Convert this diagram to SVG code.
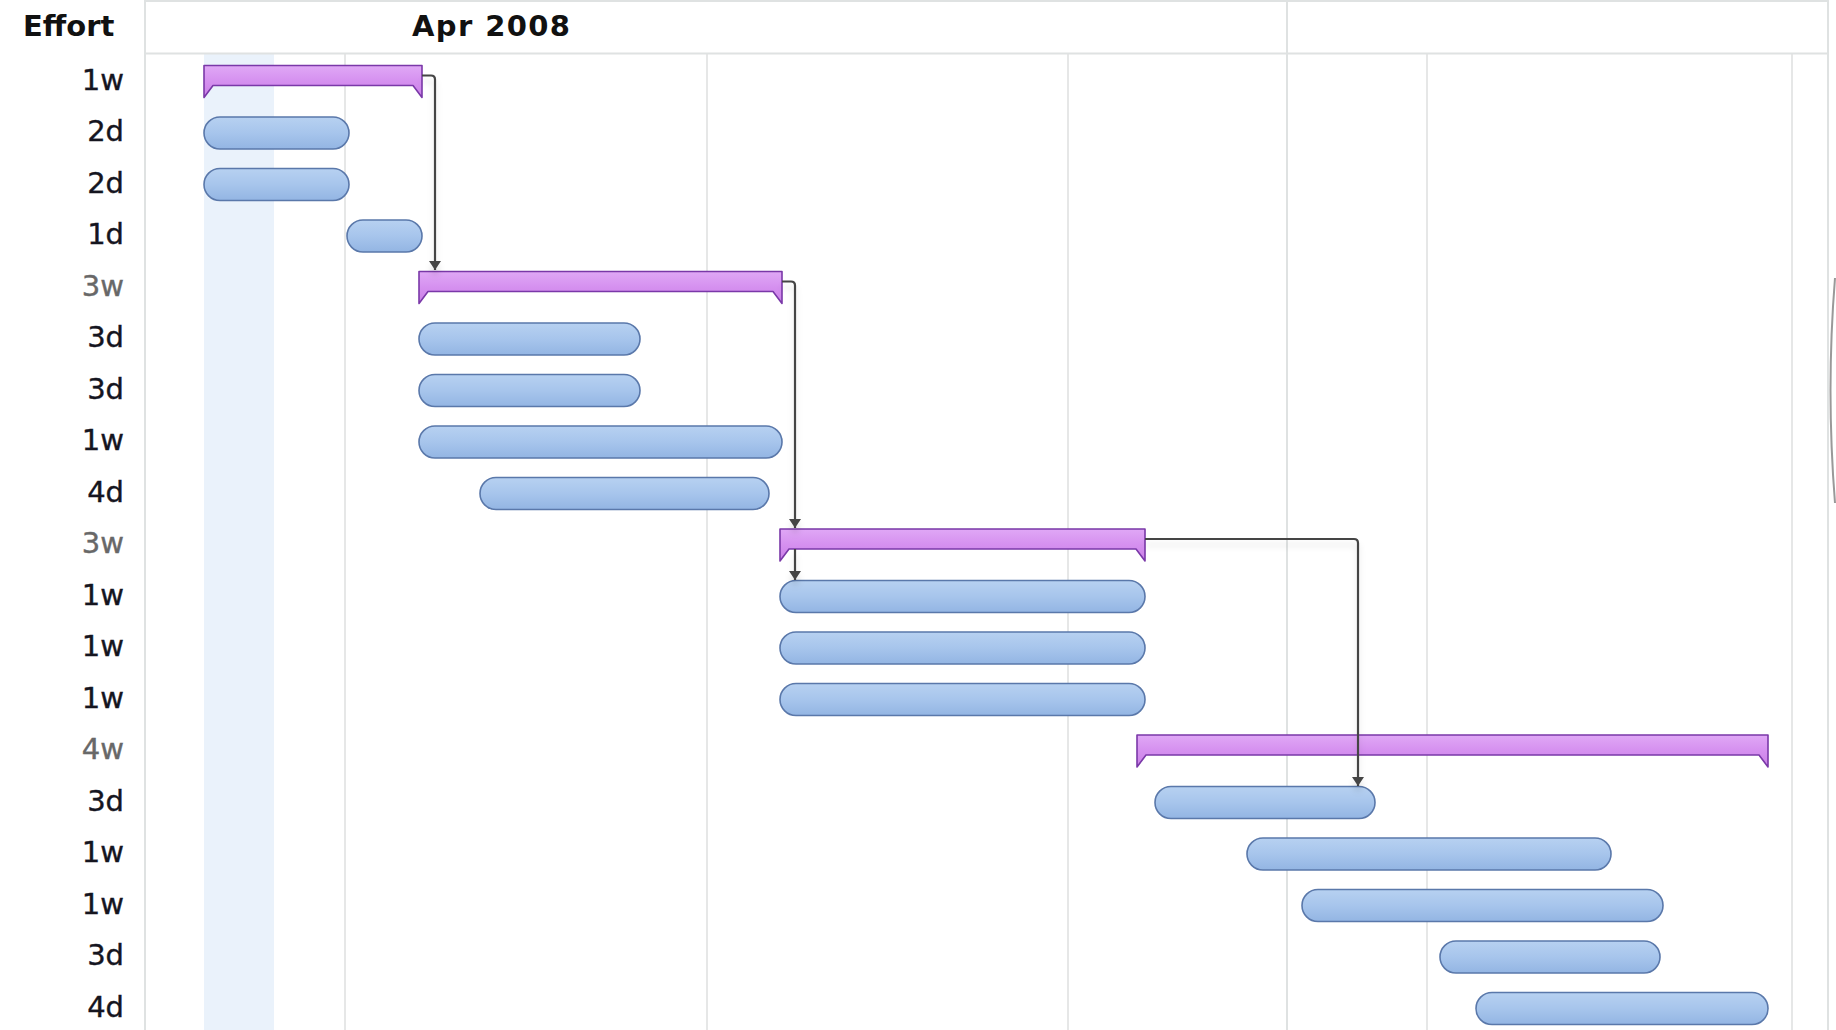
<svg xmlns="http://www.w3.org/2000/svg" width="1836" height="1030" viewBox="0 0 1836 1030">
  <defs>
    <linearGradient id="taskFill" x1="0" y1="0" x2="0" y2="1">
      <stop offset="0" stop-color="#b7d1f1"/>
      <stop offset="0.5" stop-color="#a7c5ec"/>
      <stop offset="1" stop-color="#93b5e3"/>
    </linearGradient>
    <linearGradient id="sumFill" x1="0" y1="0" x2="0" y2="1">
      <stop offset="0" stop-color="#e0a8f6"/>
      <stop offset="0.5" stop-color="#d590ef"/>
      <stop offset="1" stop-color="#c97fe6"/>
    </linearGradient>
    <marker id="arrow" viewBox="0 0 12 9" refX="6" refY="9" markerWidth="12" markerHeight="9" markerUnits="userSpaceOnUse" orient="0">
      <path d="M0,0 L12,0 L6,9 Z" fill="#444444"/>
    </marker>
    <filter id="shadow" x="-10%" y="-10%" width="120%" height="140%">
      <feDropShadow dx="0" dy="6" stdDeviation="3" flood-color="#000000" flood-opacity="0.12"/>
    </filter>
  </defs>
  <style>
    .lbl { font-family: "DejaVu Sans", "Liberation Sans", sans-serif; font-size: 29px; fill: #15151f; text-anchor: end; stroke: #15151f; stroke-width: 0.4; }
    .lbl.calc { fill: #686868; stroke: #686868; }
    .hdr { font-family: "DejaVu Sans", "Liberation Sans", sans-serif; font-size: 29px; font-weight: bold; fill: #111111; }
    .grid { stroke: #e6e7e7; stroke-width: 2; fill: none; }
    .frame { stroke: #dfe2e2; stroke-width: 2; fill: none; }
    .task { fill: url(#taskFill); stroke: #5a78aa; stroke-width: 1.6; }
    .sum { fill: url(#sumFill); stroke: #7a38a8; stroke-width: 1.6; stroke-linejoin: round; }
    .conn { stroke: #444444; stroke-width: 2.2; fill: none; }
  </style>

  <rect x="0" y="0" width="1836" height="1030" fill="#ffffff"/>

  <!-- shaded day column -->
  <rect x="204" y="54" width="70" height="976" fill="#eaf2fb"/>

  <!-- gridlines -->
  <g id="grid">
    <line class="grid" x1="345" y1="54" x2="345" y2="1030"/>
    <line class="grid" x1="707" y1="54" x2="707" y2="1030"/>
    <line class="grid" x1="1068" y1="54" x2="1068" y2="1030"/>
    <line class="grid" x1="1427" y1="54" x2="1427" y2="1030"/>
    <line class="grid" x1="1792" y1="54" x2="1792" y2="1030"/>
    <line class="frame" x1="1287" y1="0" x2="1287" y2="1030"/>
    <line class="frame" x1="145" y1="1" x2="1828" y2="1"/>
    <line class="frame" x1="145" y1="53.5" x2="1828" y2="53.5" stroke-width="2.5"/>
    <line class="frame" x1="145" y1="0" x2="145" y2="1030"/>
    <line class="frame" x1="1828" y1="0" x2="1828" y2="1030"/>
  </g>

  <!-- header -->
  <g id="header">
    <text class="hdr" x="23" y="36">Effort</text>
    <text class="hdr" x="412" y="36" textLength="158" lengthAdjust="spacing">Apr 2008</text>
  </g>

  <!-- effort labels -->
  <g id="labels">
    <text class="lbl" x="124" y="89.5">1w</text>
    <text class="lbl" x="124" y="141">2d</text>
    <text class="lbl" x="124" y="192.5">2d</text>
    <text class="lbl" x="124" y="244">1d</text>
    <text class="lbl calc" x="124" y="295.5">3w</text>
    <text class="lbl" x="124" y="347">3d</text>
    <text class="lbl" x="124" y="398.5">3d</text>
    <text class="lbl" x="124" y="450">1w</text>
    <text class="lbl" x="124" y="501.5">4d</text>
    <text class="lbl calc" x="124" y="553">3w</text>
    <text class="lbl" x="124" y="604.5">1w</text>
    <text class="lbl" x="124" y="656">1w</text>
    <text class="lbl" x="124" y="707.5">1w</text>
    <text class="lbl calc" x="124" y="759">4w</text>
    <text class="lbl" x="124" y="810.5">3d</text>
    <text class="lbl" x="124" y="862">1w</text>
    <text class="lbl" x="124" y="913.5">1w</text>
    <text class="lbl" x="124" y="965">3d</text>
    <text class="lbl" x="124" y="1016.5">4d</text>
  </g>

  <!-- bars -->
  <g id="row0"><path class="sum" d="M204,65.5 H422 V97.5 L413,85.5 H213 L204,97.5 Z"/></g>
  <g id="row1"><rect class="task" x="204" y="117" width="145" height="32" rx="16"/></g>
  <g id="row2"><rect class="task" x="204" y="168.5" width="145" height="32" rx="16"/></g>
  <g id="row3"><rect class="task" x="347" y="220" width="75" height="32" rx="16"/></g>
  <g id="row4"><path class="sum" d="M419,271.5 H782 V303.5 L773,291.5 H428 L419,303.5 Z"/></g>
  <g id="row5"><rect class="task" x="419" y="323" width="221" height="32" rx="16"/></g>
  <g id="row6"><rect class="task" x="419" y="374.5" width="221" height="32" rx="16"/></g>
  <g id="row7"><rect class="task" x="419" y="426" width="363" height="32" rx="16"/></g>
  <g id="row8"><rect class="task" x="480" y="477.5" width="289" height="32" rx="16"/></g>
  <g id="row9"><path class="sum" d="M780,529 H1145 V561 L1136,549 H789 L780,561 Z"/></g>
  <g id="row10"><rect class="task" x="780" y="580.5" width="365" height="32" rx="16"/></g>
  <g id="row11"><rect class="task" x="780" y="632" width="365" height="32" rx="16"/></g>
  <g id="row12"><rect class="task" x="780" y="683.5" width="365" height="32" rx="16"/></g>
  <g id="row13"><path class="sum" d="M1137,735 H1768 V767 L1759,755 H1146 L1137,767 Z"/></g>
  <g id="row14"><rect class="task" x="1155" y="786.5" width="220" height="32" rx="16"/></g>
  <g id="row15"><rect class="task" x="1247" y="838" width="364" height="32" rx="16"/></g>
  <g id="row16"><rect class="task" x="1302" y="889.5" width="361" height="32" rx="16"/></g>
  <g id="row17"><rect class="task" x="1440" y="941" width="220" height="32" rx="16"/></g>
  <g id="row18"><rect class="task" x="1476" y="992.5" width="292" height="32" rx="16"/></g>

  <!-- connectors -->
  <g id="connectors" filter="url(#shadow)">
    <path class="conn" d="M422,75.5 H431 Q435,75.5 435,79.5 V270" marker-end="url(#arrow)"/>
    <path class="conn" d="M782,281.5 H791 Q795,281.5 795,285.5 V528" marker-end="url(#arrow)"/>
    <path class="conn" d="M795,549 V580" marker-end="url(#arrow)"/>
    <path class="conn" d="M1145,539 H1354 Q1358,539 1358,543 V786" marker-end="url(#arrow)"/>
  </g>

  <!-- window edge arc -->
  <path d="M1835,278 Q1826,390 1835,503" stroke="#999999" stroke-width="2" fill="none"/>
</svg>
